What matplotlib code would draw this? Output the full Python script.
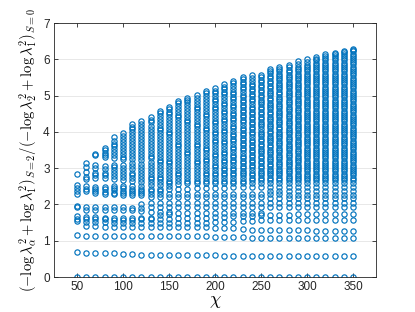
import numpy as np
import matplotlib
matplotlib.use('Agg')
import matplotlib.pyplot as plt

plt.rcParams['font.family'] = ['Liberation Sans', 'DejaVu Sans']
plt.rcParams['mathtext.fontset'] = 'cm'

chi = [50, 60, 70, 80, 90, 100, 110, 120, 130, 140, 150, 160, 170, 180, 190,
       200, 210, 220, 230, 240, 250, 260, 270, 280, 290, 300, 310, 320, 330, 340, 350]

r050 = [0, 0.68, 1.15, 1.55, 1.60, 1.67, 1.94, 1.96, 2.28, 2.37, 2.46, 2.55, 2.83]
r060 = [0, 0.67, 1.13, 1.40, 1.52, 1.59, 1.65, 1.86, 1.92, 2.37, 2.44, 2.51, 2.69, 2.76,
        2.90, 3.04, 3.13]
r070 = [0, 0.66, 1.13, 1.40, 1.52, 1.59, 1.65, 1.86, 1.92, 2.33, 2.37, 2.42, 2.48, 2.72,
        2.80, 2.86, 3.00, 3.08, 3.36, 3.38]
r080 = [0, 0.65, 1.13, 1.39, 1.51, 1.59, 1.64, 1.85, 1.92, 2.30, 2.35, 2.42, 2.48, 2.72,
        2.80, 2.86, 2.98, 3.06, 3.30, 3.36, 3.42, 3.50, 3.56]
r090 = [0, 0.65, 1.12, 1.39, 1.50, 1.58, 1.64, 1.85, 1.92, 2.28, 2.33, 2.39, 2.46, 2.52,
        2.70, 2.78, 2.86, 2.95, 3.02, 3.10, 3.28, 3.36, 3.44, 3.52, 3.60, 3.68, 3.76, 3.87]
r100 = [0, 0.63, 1.12, 1.39, 1.50, 1.58, 1.63, 1.85, 1.92, 2.27, 2.32, 2.38, 2.45, 2.52,
        2.68, 2.76, 2.84, 2.92, 3.00, 3.10, 3.25, 3.32, 3.40, 3.48, 3.56, 3.64, 3.72,
        3.80, 3.90, 3.98]
r110 = [0, 0.63, 1.12, 1.39, 1.49, 1.58, 1.63, 1.84, 1.91, 2.26, 2.31, 2.37, 2.44, 2.51,
        2.64, 2.72, 2.80, 2.88, 2.97, 3.05, 3.14, 3.25, 3.33, 3.41, 3.50, 3.58, 3.66,
        3.75, 3.83, 3.92, 4.00, 4.08, 4.14, 4.21]
r120 = [0, 0.62, 1.12, 1.39, 1.49, 1.60, 1.63, 1.82, 1.91, 2.02, 2.25, 2.31, 2.37, 2.44,
        2.52, 2.62, 2.70, 2.78, 2.87, 2.95, 3.03, 3.12, 3.22, 3.30, 3.38, 3.47, 3.55,
        3.63, 3.72, 3.80, 3.88, 3.97, 4.05, 4.13, 4.22, 4.31]
r130 = [0, 0.62, 1.12, 1.39, 1.48, 1.60, 1.64, 1.80, 1.92, 2.03, 2.22, 2.30, 2.37, 2.44,
        2.53, 2.61, 2.69, 2.77, 2.85, 2.93, 3.01, 3.09, 3.18, 3.27, 3.35, 3.43, 3.51,
        3.59, 3.68, 3.76, 3.84, 3.92, 4.01, 4.09, 4.17, 4.26, 4.34, 4.42]
r140 = [0, 0.62, 1.12, 1.39, 1.48, 1.61, 1.70, 1.79, 1.93, 2.03, 2.21, 2.30, 2.38, 2.44,
        2.54, 2.62, 2.69, 2.77, 2.84, 2.92, 3.00, 3.08, 3.16, 3.24, 3.32, 3.40, 3.48,
        3.56, 3.64, 3.72, 3.80, 3.88, 3.96, 4.04, 4.12, 4.20, 4.28, 4.36, 4.44, 4.51, 4.57]
r150 = [0, 0.61, 1.12, 1.39, 1.48, 1.61, 1.74, 1.78, 1.93, 2.04, 2.21, 2.30, 2.42, 2.50,
        2.58, 2.65, 2.73, 2.81, 2.89, 2.97, 3.05, 3.13, 3.21, 3.29, 3.37, 3.45, 3.53,
        3.61, 3.69, 3.77, 3.85, 3.93, 4.01, 4.09, 4.17, 4.25, 4.33, 4.41, 4.49, 4.56,
        4.63, 4.69]
r160 = [0, 0.61, 1.13, 1.39, 1.48, 1.62, 1.76, 1.94, 2.05, 2.21, 2.30, 2.43, 2.56, 2.64,
        2.72, 2.80, 2.88, 2.96, 3.04, 3.12, 3.20, 3.28, 3.36, 3.44, 3.52, 3.60, 3.68,
        3.76, 3.84, 3.92, 4.00, 4.08, 4.16, 4.24, 4.32, 4.40, 4.48, 4.56, 4.64, 4.72,
        4.80, 4.86]
r170 = [0, 0.61, 1.13, 1.39, 1.48, 1.62, 1.77, 1.94, 2.05, 2.21, 2.30, 2.44, 2.58, 2.66,
        2.74, 2.82, 2.90, 2.98, 3.06, 3.14, 3.22, 3.30, 3.38, 3.46, 3.54, 3.62, 3.70,
        3.78, 3.86, 3.94, 4.02, 4.10, 4.18, 4.26, 4.34, 4.42, 4.50, 4.58, 4.66, 4.74,
        4.82, 4.89, 4.94]
r180 = [0, 0.60, 1.12, 1.38, 1.49, 1.63, 1.77, 1.94, 2.05, 2.21, 2.30, 2.45, 2.58, 2.66,
        2.74, 2.81, 2.90, 2.97, 3.05, 3.13, 3.21, 3.29, 3.36, 3.45, 3.52, 3.60, 3.68,
        3.76, 3.84, 3.92, 4.00, 4.07, 4.15, 4.23, 4.31, 4.39, 4.47, 4.55, 4.62, 4.70,
        4.78, 4.86, 4.94, 5.02]
r190 = [0, 0.60, 1.12, 1.37, 1.50, 1.64, 1.77, 1.94, 2.05, 2.21, 2.30, 2.45, 2.58, 2.66,
        2.73, 2.80, 2.88, 2.95, 3.03, 3.11, 3.19, 3.26, 3.34, 3.42, 3.50, 3.57, 3.65,
        3.73, 3.81, 3.88, 3.96, 4.04, 4.12, 4.19, 4.27, 4.35, 4.43, 4.50, 4.58, 4.66,
        4.74, 4.82, 4.90, 4.98, 5.06, 5.13]
r200 = [0, 0.60, 1.11, 1.36, 1.51, 1.65, 1.76, 1.94, 2.04, 2.21, 2.30, 2.46, 2.58, 2.66,
        2.73, 2.80, 2.87, 2.95, 3.02, 3.10, 3.17, 3.25, 3.33, 3.40, 3.48, 3.55, 3.63,
        3.71, 3.78, 3.86, 3.93, 4.01, 4.09, 4.16, 4.24, 4.31, 4.39, 4.47, 4.54, 4.62,
        4.69, 4.77, 4.85, 4.92, 5.00, 5.07, 5.13, 5.20]
r210 = [0, 0.59, 1.11, 1.35, 1.52, 1.66, 1.76, 1.94, 2.04, 2.21, 2.30, 2.46, 2.59, 2.66,
        2.73, 2.80, 2.87, 2.94, 3.01, 3.09, 3.16, 3.24, 3.31, 3.39, 3.46, 3.54, 3.61,
        3.69, 3.76, 3.84, 3.91, 3.99, 4.06, 4.14, 4.21, 4.29, 4.36, 4.44, 4.51, 4.59,
        4.66, 4.74, 4.81, 4.89, 4.96, 5.04, 5.11, 5.19, 5.25, 5.31]
r220 = [0, 0.59, 1.10, 1.34, 1.53, 1.67, 1.76, 1.94, 2.04, 2.20, 2.30, 2.47, 2.59, 2.66,
        2.73, 2.80, 2.87, 2.94, 3.01, 3.08, 3.16, 3.23, 3.30, 3.37, 3.45, 3.52, 3.59,
        3.66, 3.74, 3.81, 3.88, 3.95, 4.03, 4.10, 4.17, 4.24, 4.32, 4.39, 4.46, 4.53,
        4.61, 4.68, 4.75, 4.82, 4.90, 4.97, 5.04, 5.11, 5.19, 5.26, 5.34, 5.41]
r230 = [0, 0.59, 1.10, 1.33, 1.54, 1.68, 1.77, 1.94, 2.04, 2.20, 2.30, 2.47, 2.59, 2.66,
        2.73, 2.80, 2.86, 2.93, 3.00, 3.07, 3.14, 3.21, 3.28, 3.35, 3.42, 3.49, 3.56,
        3.63, 3.70, 3.77, 3.84, 3.91, 3.98, 4.05, 4.12, 4.19, 4.26, 4.33, 4.40, 4.47,
        4.54, 4.61, 4.68, 4.75, 4.82, 4.89, 4.96, 5.03, 5.10, 5.17, 5.24, 5.31, 5.38,
        5.45, 5.52]
r240 = [0, 0.58, 1.09, 1.31, 1.55, 1.69, 1.77, 1.94, 2.03, 2.20, 2.30, 2.48, 2.60, 2.67,
        2.74, 2.81, 2.88, 2.95, 3.02, 3.09, 3.16, 3.23, 3.30, 3.37, 3.44, 3.51, 3.58,
        3.65, 3.72, 3.79, 3.86, 3.93, 4.00, 4.07, 4.14, 4.21, 4.28, 4.35, 4.42, 4.49,
        4.56, 4.63, 4.70, 4.77, 4.84, 4.91, 4.98, 5.05, 5.12, 5.19, 5.26, 5.33, 5.40,
        5.48, 5.56]
r250 = [0, 0.57, 1.08, 1.29, 1.57, 1.70, 1.77, 1.94, 2.03, 2.20, 2.30, 2.49, 2.60, 2.67,
        2.73, 2.80, 2.87, 2.93, 3.00, 3.07, 3.14, 3.20, 3.27, 3.34, 3.41, 3.47, 3.54,
        3.61, 3.68, 3.74, 3.81, 3.88, 3.95, 4.01, 4.08, 4.15, 4.22, 4.28, 4.35, 4.42,
        4.49, 4.55, 4.62, 4.69, 4.76, 4.82, 4.89, 4.96, 5.03, 5.09, 5.16, 5.23, 5.30,
        5.37, 5.44, 5.51, 5.58]
r260 = [0, 0.57, 1.08, 1.29, 1.57, 1.71, 1.94, 2.03, 2.19, 2.29, 2.37, 2.49, 2.60, 2.67,
        2.73, 2.80, 2.86, 2.93, 2.99, 3.06, 3.12, 3.19, 3.25, 3.32, 3.38, 3.45, 3.51,
        3.58, 3.64, 3.71, 3.77, 3.84, 3.90, 3.97, 4.03, 4.10, 4.16, 4.23, 4.29, 4.36,
        4.42, 4.49, 4.55, 4.62, 4.68, 4.75, 4.81, 4.88, 4.94, 5.01, 5.07, 5.14, 5.20,
        5.27, 5.34, 5.41, 5.48, 5.55, 5.62, 5.68, 5.74]
r270 = [0, 0.57, 1.08, 1.29, 1.57, 1.72, 1.94, 2.03, 2.18, 2.28, 2.37, 2.49, 2.60, 2.67,
        2.73, 2.80, 2.86, 2.92, 2.99, 3.05, 3.12, 3.18, 3.25, 3.31, 3.37, 3.44, 3.50,
        3.57, 3.63, 3.69, 3.76, 3.82, 3.89, 3.95, 4.01, 4.08, 4.14, 4.21, 4.27, 4.33,
        4.40, 4.46, 4.53, 4.59, 4.65, 4.72, 4.78, 4.85, 4.91, 4.97, 5.04, 5.10, 5.17,
        5.23, 5.29, 5.36, 5.42, 5.49, 5.55, 5.61, 5.68, 5.74, 5.79]
r280 = [0, 0.58, 1.09, 1.29, 1.57, 1.72, 1.94, 2.03, 2.18, 2.27, 2.37, 2.49, 2.60, 2.67,
        2.73, 2.79, 2.86, 2.92, 2.98, 3.05, 3.11, 3.17, 3.24, 3.30, 3.36, 3.43, 3.49,
        3.55, 3.62, 3.68, 3.74, 3.81, 3.87, 3.93, 4.00, 4.06, 4.12, 4.19, 4.25, 4.31,
        4.38, 4.44, 4.50, 4.57, 4.63, 4.69, 4.76, 4.82, 4.88, 4.95, 5.01, 5.07, 5.14,
        5.20, 5.26, 5.33, 5.39, 5.45, 5.52, 5.58, 5.64, 5.71, 5.78, 5.85]
r290 = [0, 0.58, 1.09, 1.29, 1.57, 1.73, 1.94, 2.03, 2.17, 2.26, 2.37, 2.49, 2.60, 2.67,
        2.73, 2.79, 2.85, 2.92, 2.98, 3.04, 3.10, 3.17, 3.23, 3.29, 3.35, 3.42, 3.48,
        3.54, 3.60, 3.67, 3.73, 3.79, 3.85, 3.92, 3.98, 4.04, 4.10, 4.17, 4.23, 4.29,
        4.35, 4.42, 4.48, 4.54, 4.60, 4.67, 4.73, 4.79, 4.85, 4.92, 4.98, 5.04, 5.10,
        5.17, 5.23, 5.29, 5.35, 5.42, 5.48, 5.54, 5.60, 5.67, 5.73, 5.79, 5.86, 5.95]
r300 = [0, 0.58, 1.09, 1.29, 1.57, 1.73, 1.94, 2.03, 2.17, 2.26, 2.37, 2.49, 2.60, 2.67,
        2.73, 2.79, 2.85, 2.91, 2.97, 3.03, 3.09, 3.15, 3.21, 3.27, 3.33, 3.39, 3.45,
        3.51, 3.57, 3.63, 3.69, 3.75, 3.81, 3.87, 3.93, 3.99, 4.05, 4.11, 4.17, 4.23,
        4.29, 4.35, 4.41, 4.47, 4.53, 4.59, 4.65, 4.71, 4.77, 4.83, 4.89, 4.95, 5.01,
        5.07, 5.13, 5.19, 5.25, 5.31, 5.37, 5.43, 5.49, 5.55, 5.61, 5.67, 5.73, 5.79,
        5.85, 5.92, 6.00]
r310 = [0, 0.58, 1.09, 1.28, 1.57, 1.73, 1.94, 2.03, 2.17, 2.26, 2.37, 2.49, 2.60, 2.67,
        2.73, 2.79, 2.85, 2.91, 2.97, 3.03, 3.09, 3.15, 3.21, 3.27, 3.33, 3.39, 3.45,
        3.51, 3.57, 3.63, 3.69, 3.75, 3.81, 3.87, 3.93, 3.99, 4.05, 4.11, 4.17, 4.23,
        4.29, 4.35, 4.41, 4.47, 4.53, 4.59, 4.65, 4.71, 4.77, 4.83, 4.89, 4.95, 5.01,
        5.07, 5.13, 5.19, 5.25, 5.31, 5.37, 5.43, 5.49, 5.55, 5.61, 5.67, 5.73, 5.79,
        5.85, 5.91, 5.97, 6.02, 6.07]
r320 = [0, 0.58, 1.09, 1.28, 1.57, 1.73, 1.94, 2.03, 2.17, 2.26, 2.37, 2.49, 2.60, 2.67,
        2.73, 2.79, 2.85, 2.91, 2.97, 3.03, 3.09, 3.15, 3.21, 3.27, 3.33, 3.39, 3.45,
        3.51, 3.57, 3.63, 3.69, 3.75, 3.81, 3.87, 3.93, 3.99, 4.05, 4.11, 4.17, 4.23,
        4.29, 4.35, 4.41, 4.47, 4.53, 4.59, 4.65, 4.71, 4.77, 4.83, 4.89, 4.95, 5.01,
        5.07, 5.13, 5.19, 5.25, 5.31, 5.37, 5.43, 5.49, 5.55, 5.61, 5.67, 5.73, 5.79,
        5.85, 5.91, 5.97, 6.03, 6.09, 6.14]
r330 = [0, 0.58, 1.08, 1.28, 1.57, 1.73, 1.94, 2.03, 2.17, 2.26, 2.37, 2.49, 2.60, 2.67,
        2.73, 2.79, 2.85, 2.91, 2.97, 3.03, 3.09, 3.15, 3.21, 3.27, 3.33, 3.39, 3.45,
        3.51, 3.57, 3.63, 3.69, 3.75, 3.81, 3.87, 3.93, 3.99, 4.05, 4.11, 4.17, 4.23,
        4.29, 4.35, 4.41, 4.47, 4.53, 4.59, 4.65, 4.71, 4.77, 4.83, 4.89, 4.95, 5.01,
        5.07, 5.13, 5.19, 5.25, 5.31, 5.37, 5.43, 5.49, 5.55, 5.61, 5.67, 5.73, 5.79,
        5.85, 5.91, 5.97, 6.03, 6.09, 6.14, 6.18]
r340 = [0, 0.58, 1.08, 1.27, 1.57, 1.73, 1.94, 2.03, 2.17, 2.26, 2.37, 2.49, 2.60, 2.67,
        2.73, 2.79, 2.85, 2.91, 2.97, 3.03, 3.09, 3.15, 3.21, 3.27, 3.33, 3.39, 3.45,
        3.51, 3.57, 3.63, 3.69, 3.75, 3.81, 3.87, 3.93, 3.99, 4.05, 4.11, 4.17, 4.23,
        4.29, 4.35, 4.41, 4.47, 4.53, 4.59, 4.65, 4.71, 4.77, 4.83, 4.89, 4.95, 5.01,
        5.07, 5.13, 5.19, 5.25, 5.31, 5.37, 5.43, 5.49, 5.55, 5.61, 5.67, 5.73, 5.79,
        5.85, 5.91, 5.97, 6.03, 6.09, 6.15, 6.19, 6.23]
r350 = [0, 0.58, 1.08, 1.27, 1.57, 1.73, 1.94, 2.03, 2.17, 2.26, 2.37, 2.49, 2.60, 2.68,
        2.74, 2.80, 2.86, 2.92, 2.98, 3.04, 3.10, 3.16, 3.22, 3.28, 3.34, 3.40, 3.46,
        3.52, 3.58, 3.64, 3.70, 3.76, 3.82, 3.88, 3.94, 4.00, 4.06, 4.12, 4.18, 4.24,
        4.30, 4.36, 4.42, 4.48, 4.54, 4.60, 4.66, 4.72, 4.78, 4.84, 4.90, 4.96, 5.02,
        5.08, 5.14, 5.20, 5.26, 5.32, 5.38, 5.44, 5.50, 5.56, 5.62, 5.68, 5.74, 5.80,
        5.86, 5.92, 5.98, 6.04, 6.10, 6.16, 6.22, 6.26, 6.29]

ratios = [r050, r060, r070, r080, r090, r100, r110, r120, r130, r140, r150,
          r160, r170, r180, r190, r200, r210, r220, r230, r240, r250, r260,
          r270, r280, r290, r300, r310, r320, r330, r340, r350]

fig = plt.figure(figsize=(4.15, 3.12), dpi=100)
ax = fig.add_axes([0.130, 0.112, 0.776, 0.814])

xs = np.concatenate([[c] * len(r) for c, r in zip(chi, ratios)])
ys = np.concatenate(ratios)
ax.plot(xs, ys, 'o', color='#0072BD', mfc='none', ms=3.8, mew=0.85)

ax.set_xlim(25, 375)
ax.set_ylim(0, 7)
ax.set_xticks([50, 100, 150, 200, 250, 300, 350])
ax.set_yticks(range(8))
ax.grid(True, axis='y', color='#262626', alpha=0.12, linewidth=0.6)
ax.set_axisbelow(True)

for s in ax.spines.values():
    s.set_color('#262626')
    s.set_linewidth(0.6)
ax.tick_params(direction='in', length=3, width=0.6, colors='#262626',
               labelsize=8.5, top=True, right=True, pad=3)

ax.set_xlabel(r'$\chi$', fontsize=13, labelpad=0)
ax.set_ylabel(r'$(-\log\lambda_{\alpha}^{2}+\log\lambda_{1}^{2})_{S=2}'
              r'/(-\log\lambda_{2}^{2}+\log\lambda_{1}^{2})_{S=0}$',
              fontsize=10.5, labelpad=2)

fig.savefig('out.png', dpi=100)
